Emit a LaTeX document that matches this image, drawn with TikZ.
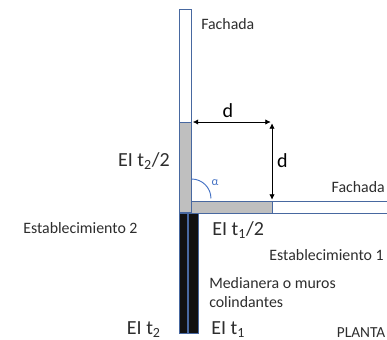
\documentclass[tikz,border=0pt]{standalone}
\usepackage{fontspec}
\setmainfont{Carlito}
\usetikzlibrary{positioning,arrows.meta}
\definecolor{wallblue}{RGB}{72,104,160}
\definecolor{wallgrey}{RGB}{191,191,191}
\definecolor{wallblack}{RGB}{17,17,17}
\definecolor{txtgrey}{RGB}{45,45,45}
\definecolor{anglblue}{RGB}{68,114,196}

\begin{document}
\begin{tikzpicture}[x=0.75pt, y=-0.75pt,
  >={Latex[length=4pt,width=4pt]},
  arr/.style={<->, line width=0.5pt, shorten <=1pt, shorten >=1pt},
  wall/.style={draw=wallblue, line width=0.7pt, anchor=north west, inner sep=0pt, outer sep=0pt},
  lblbig/.style={font=\fontsize{15}{17}\selectfont, text=txtgrey, inner sep=0pt},
  lblsmall/.style={font=\fontsize{11.9}{14.3}\selectfont, text=txtgrey, inner sep=0pt, align=left}
]
\useasboundingbox (0,0) rectangle (387,340);

% walls
\node[wall, minimum width=9.4pt, minimum height=84.8pt] (FachTop) at (179,9) {};
\node[wall, fill=wallgrey, minimum width=9.4pt, minimum height=68.2pt] (GreyV) at (179,122) {};
\node[wall, fill=wallgrey, minimum width=60.4pt, minimum height=9pt] (GreyH) at (191.5,201) {};
\node[wall, minimum width=86.5pt, minimum height=9pt] (FachRight) at (272,201) {};
\node[wall, fill=wallblack, minimum width=6.6pt, minimum height=90pt] (BlackA) at (179,213) {};
\node[wall, fill=wallblack, minimum width=8.2pt, minimum height=90pt] (BlackB) at (188,213) {};

% dimensions
\coordinate (P) at (GreyH.north east);
\coordinate (Q) at (P |- GreyV.north east);
\draw[arr] (GreyV.north east) -- (Q);
\draw[arr] (Q) -- (P);

% angle
\draw[anglblue, line width=0.7pt] (191.5,179) arc[start angle=90, end angle=0, radius=14.6pt];

% labels
\node[lblbig, text=black] (dH) at (228,111) {d};
\node[lblbig, text=black] (dV) at (282.5,161) {d};
\node[font=\fontsize{9}{10}\selectfont, text=anglblue, inner sep=0pt] (alpha) at (215,183) {α};

\node[lblsmall, anchor=west] (Fach1) at (201,24) {Fachada};
\node[lblsmall, anchor=east] (Fach2) at (385,187) {Fachada};
\node[lblsmall, anchor=west] (Est2) at (23,228) {Establecimiento 2};
\node[lblsmall, anchor=east] (Est1) at (384,255) {Establecimiento 1};
\node[lblsmall, anchor=north west] (Med) at (209,277) {Medianera o muros\\colindantes};
\node[lblsmall, anchor=east, font=\fontsize{11.5}{14}\selectfont] (Planta) at (385.5,333) {PLANTA};

\node[lblbig, anchor=east] (EIt2m) at (170,161) {EI t\textsubscript{2}/2};
\node[lblbig, anchor=west] (EIt1m) at (212,230) {EI t\textsubscript{1}/2};
\node[lblbig, anchor=east] (EIt2) at (161,330) {EI t\textsubscript{2}};
\node[lblbig, anchor=west] (EIt1) at (211,330) {EI t\textsubscript{1}};
\end{tikzpicture}
\end{document}
